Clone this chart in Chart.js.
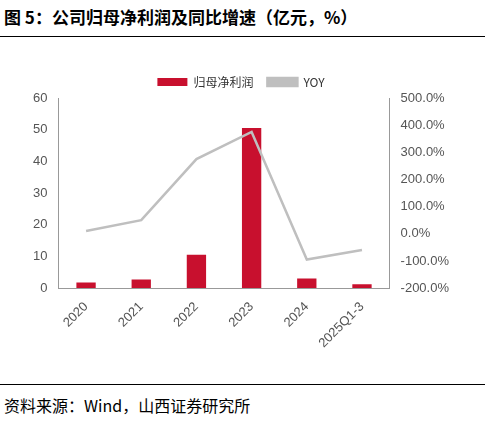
<!DOCTYPE html>
<html><head><meta charset="utf-8">
<script src="https://cdn.jsdelivr.net/npm/chart.js"></script>
<style>
body{margin:0;width:485px;height:423px;background:#fff;font-family:"Noto Sans CJK SC","Noto Sans",sans-serif;}
#title{position:absolute;left:4px;top:4px;font-size:17px;font-weight:bold;color:#000;}
#top{position:absolute;left:0;top:36px;width:485px;border-top:1px solid #000;}
#bot{position:absolute;left:0;top:384px;width:485px;border-top:1px solid #000;}
#src{position:absolute;left:4px;top:393px;font-size:16px;color:#000;}
#wrap{position:absolute;left:10px;top:62px;width:450px;height:292px;}
</style></head><body>
<div id="title">图 5：公司归母净利润及同比增速（亿元，%）</div>
<div id="top"></div>
<div id="wrap"><canvas id="c"></canvas></div>
<div id="bot"></div>
<div id="src">资料来源：Wind，山西证券研究所</div>
<script>
var categories = ['2020', '2021', '2022', '2023', '2024', '2025Q1-3'];
var profit = [1.8, 2.7, 10.5, 50.5, 3.0, 1.2];
var yoy = [10, 50, 275, 375, -95, -60];

var ctx = document.getElementById("c").getContext("2d");
new Chart(ctx, {
	data: {
		labels: categories,
		datasets: [{
			type: 'bar',
			label: '归母净利润',
			data: profit,
			backgroundColor: '#c8102e',
			barPercentage: 0.7,
			categoryPercentage: 0.5,
			yAxisID: 'y',
			order: 2
		}, {
			type: 'line',
			label: 'YOY',
			data: yoy,
			borderColor: '#bfbfbf',
			backgroundColor: '#bfbfbf',
			borderWidth: 2.5,
			pointRadius: 0,
			tension: 0,
			yAxisID: 'y1',
			order: 1
		}]
	},
	options: {
		responsive: true,
		maintainAspectRatio: false,
		animation: false,
		layout: { padding: { left: 20, right: 8, top: 0 } },
		plugins: {
			legend: {
				position: 'top',
				labels: {
					boxWidth: 30, boxHeight: 8, color: '#333', padding: 14,
					font: { size: 12, family: '"Noto Sans CJK SC"' },
					sort: function(a, b) { return a.datasetIndex - b.datasetIndex; }
				}
			}
		},
		scales: {
			x: {
				grid: { display: false },
				border: { color: '#999' },
				ticks: { color: '#555', maxRotation: 45, minRotation: 45, font: { size: 13 } }
			},
			y: {
				min: 0, max: 60,
				ticks: { stepSize: 10, color: '#555', font: { size: 13 } },
				grid: { display: false },
				border: { color: '#999' }
			},
			y1: {
				position: 'right',
				min: -200, max: 500,
				ticks: { stepSize: 100, color: '#555', font: { size: 13 },
					callback: function(v) { return v.toFixed(1) + '%'; } },
				grid: { display: false },
				border: { color: '#999' }
			}
		}
	}
});
</script>
</body></html>
